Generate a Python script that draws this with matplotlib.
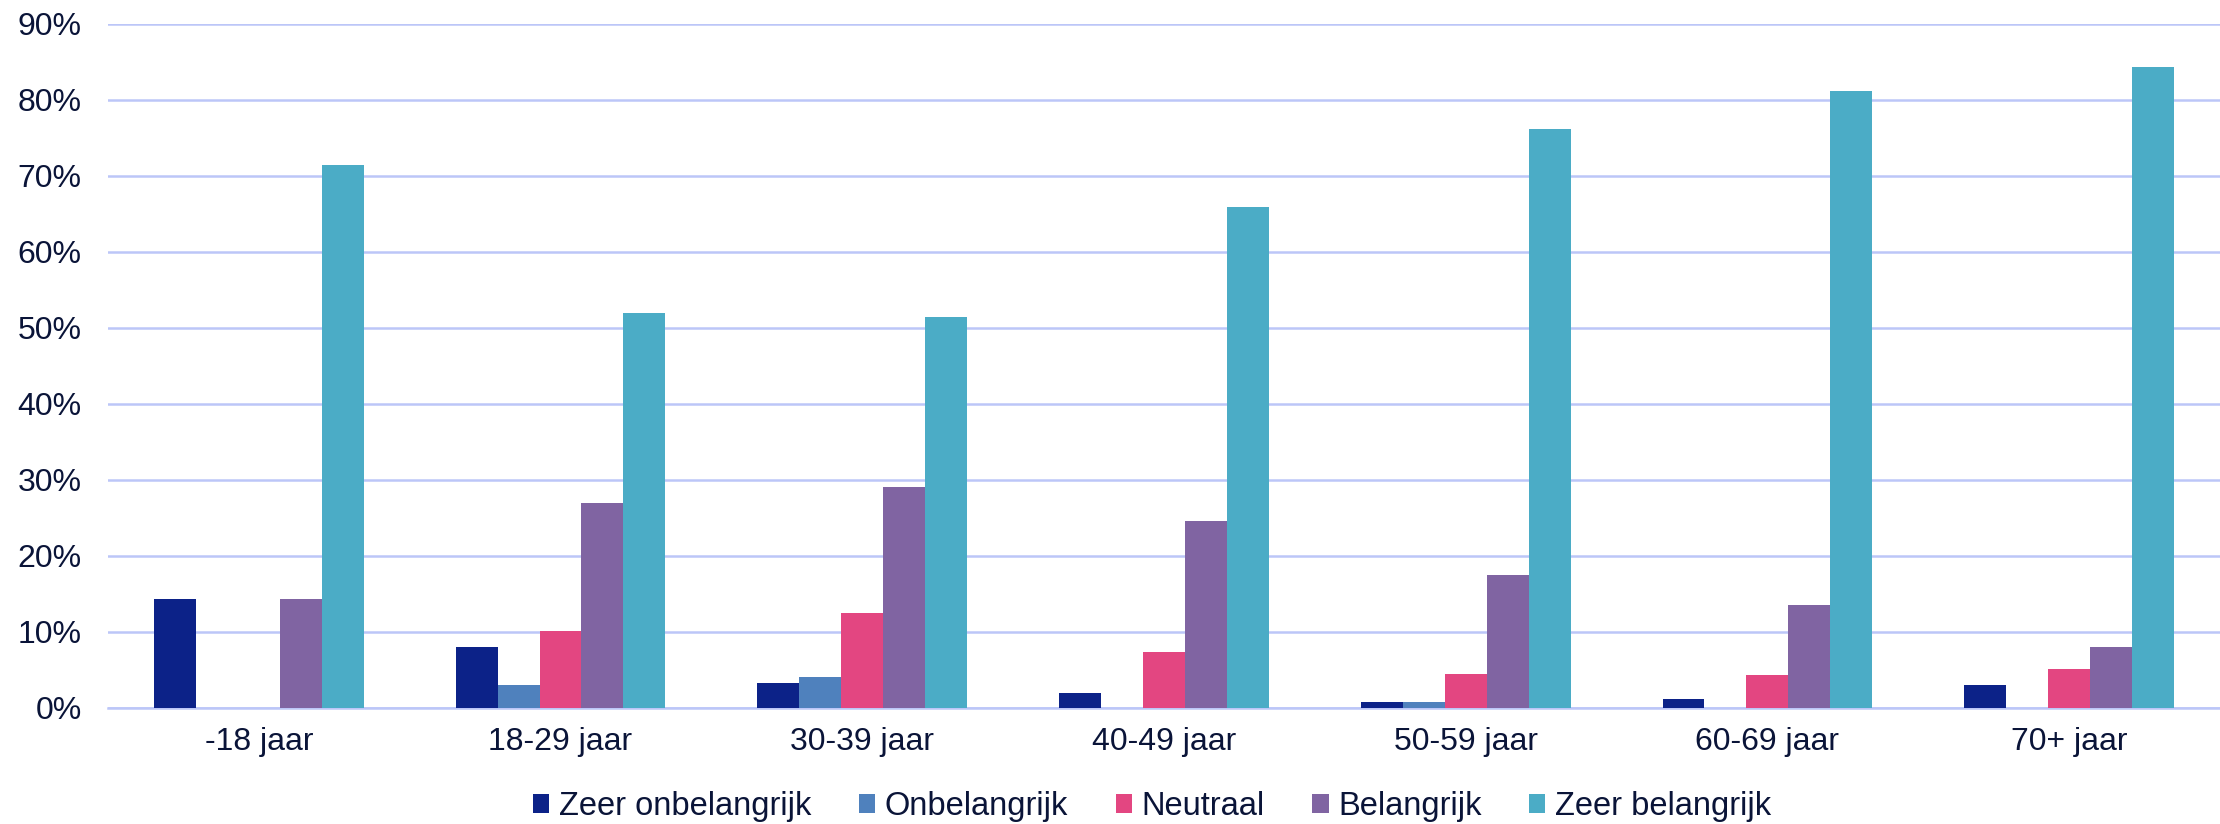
import matplotlib.pyplot as plt
import numpy as np

categories = ['-18 jaar', '18-29 jaar', '30-39 jaar', '40-49 jaar', '50-59 jaar', '60-69 jaar', '70+ jaar']
series_names = ['Zeer onbelangrijk', 'Onbelangrijk', 'Neutraal', 'Belangrijk', 'Zeer belangrijk']

zeer_onbelangrijk = [14.3, 8.0, 3.2, 1.9, 0.8, 1.1, 3.0]
onbelangrijk = [0.0, 3.0, 4.0, 0.0, 0.8, 0.0, 0.0]
neutraal = [0.0, 10.1, 12.5, 7.4, 4.5, 4.3, 5.1]
belangrijk = [14.3, 27.0, 29.1, 24.6, 17.5, 13.5, 8.0]
zeer_belangrijk = [71.4, 52.0, 51.4, 65.9, 76.2, 81.2, 84.3]

yticks = [0, 10, 20, 30, 40, 50, 60, 70, 80, 90]

colors = ['#0c2288', '#4f81bd', '#e34681', '#8064a2', '#4bacc6']
text_color = '#0a1438'
grid_color = '#bcc6f8'

plt.rcParams['font.family'] = ['Liberation Sans', 'DejaVu Sans']

fig = plt.figure(figsize=(22.2, 8.24), dpi=100)
ax = fig.add_axes([0.0486, 0.1411, 0.9514, 0.8298])

x = np.arange(len(categories))
w = 0.139
data = [zeer_onbelangrijk, onbelangrijk, neutraal, belangrijk, zeer_belangrijk]
for i, (name, vals) in enumerate(zip(series_names, data)):
    ax.bar(x + (i - 2) * w, vals, width=w, color=colors[i], label=name, zorder=3)

ax.set_xlim(-0.5, len(categories) - 0.5)
ax.set_ylim(0, 90)
ax.set_yticks(yticks)
ax.set_yticklabels([f'{t}%' for t in yticks])
ax.set_xticks(x)
ax.set_xticklabels(categories)
ax.tick_params(axis='both', length=0, labelsize=23, labelcolor=text_color)
ax.tick_params(axis='y', pad=19)
ax.tick_params(axis='x', pad=14)

ax.yaxis.grid(True, color=grid_color, linewidth=1.8, zorder=0)
ax.set_axisbelow(True)
for s in ['top', 'right', 'left']:
    ax.spines[s].set_visible(False)
ax.spines['bottom'].set_color(grid_color)
ax.spines['bottom'].set_linewidth(1.8)

leg = fig.legend(loc='center', bbox_to_anchor=(0.519, 0.021), ncol=5, frameon=False,
                 fontsize=23.5, handlelength=0.5, handleheight=0.5, handletextpad=0.3,
                 columnspacing=1.45, labelcolor=text_color)

fig.savefig('out.png', dpi=100)
